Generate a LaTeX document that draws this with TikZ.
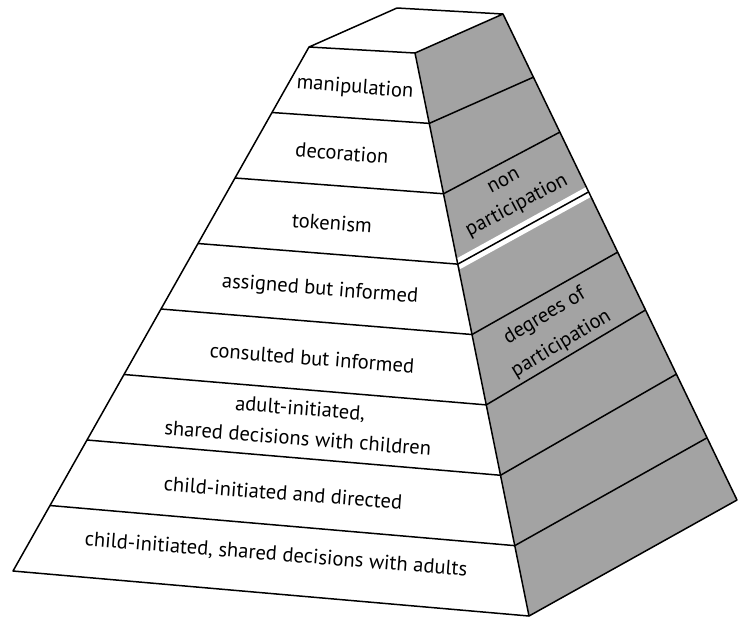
\documentclass[tikz,border=0pt]{standalone}
\usepackage{fontspec}
\setmainfont{PT Sans}
\usetikzlibrary{calc}
\definecolor{sidegrey}{RGB}{163,163,163}
\tikzset{
  rung/.style={font=\fontsize{10.3}{15}\selectfont, align=center, rotate=-4.5, inner sep=0pt},
  sidetext/.style={font=\fontsize{10.3}{14}\selectfont, align=center, inner sep=0pt},
}

\begin{document}
\begin{tikzpicture}[x=0.5pt,y=-0.5pt,line width=0.75pt,line join=round]
\useasboundingbox (0,0) rectangle (738,618);
% corners of the pyramid
\coordinate (L0) at (309,47);
\coordinate (L8) at (13,571);
\coordinate (R0) at (415,53);
\coordinate (R8) at (529,616);
\coordinate (E0) at (503,14);
\coordinate (E8) at (737,500);
\coordinate (B) at (397,8);
\foreach \i/\t in {1/0.130,2/0.243,3/0.366,4/0.490,5/0.609,6/0.741,7/0.872}{
  \coordinate (L\i) at ($(L0)!\i/8!(L8)$);
  \coordinate (R\i) at ($(R0)!\i/8!(R8)$);
  \coordinate (E\i) at ($(E0)!\t!(E8)$);
}

\fill[sidegrey] (R0) -- (E0) -- (E8) -- (R8) -- cycle;
\foreach \i in {1,...,7} \draw (L\i) -- (R\i);
\foreach \i in {1,2,4,5,6,7} \draw (R\i) -- (E\i);
%\draw[double] (R3) -- (E3);
\draw[white, line width=5.5pt] (R3) -- (E3);
\draw (R3) -- (E3);
\draw (L0) -- (B) -- (E0) -- (R0) -- cycle;
\draw (L0) -- (L8) -- (R8) -- (E8) -- (E0);
\draw (R0) -- (R8);

\node[rung] (manip) at (355,88) {manipulation};
\node[rung] (decor) at (342,153) {decoration};
\node[rung] (token) at (332,223) {tokenism};
\node[rung] (assign) at (320,290) {assigned but informed};
\node[rung] (consult) at (312,358) {consulted but informed};
\node[rung] (adult) at (299,423) {adult-initiated,\\shared decisions with children};
\node[rung] (childdir) at (283,493) {child-initiated and directed};
\node[rung] (childshare) at (276,555) {child-initiated, shared decisions with adults};

\node[sidetext, rotate=28] (nonpart) at (511,195) {non\\participation};
\node[sidetext, rotate=31, font=\fontsize{10.3}{16}\selectfont] (degpart) at (553,330) {degrees of\\participation};
\end{tikzpicture}
\end{document}
